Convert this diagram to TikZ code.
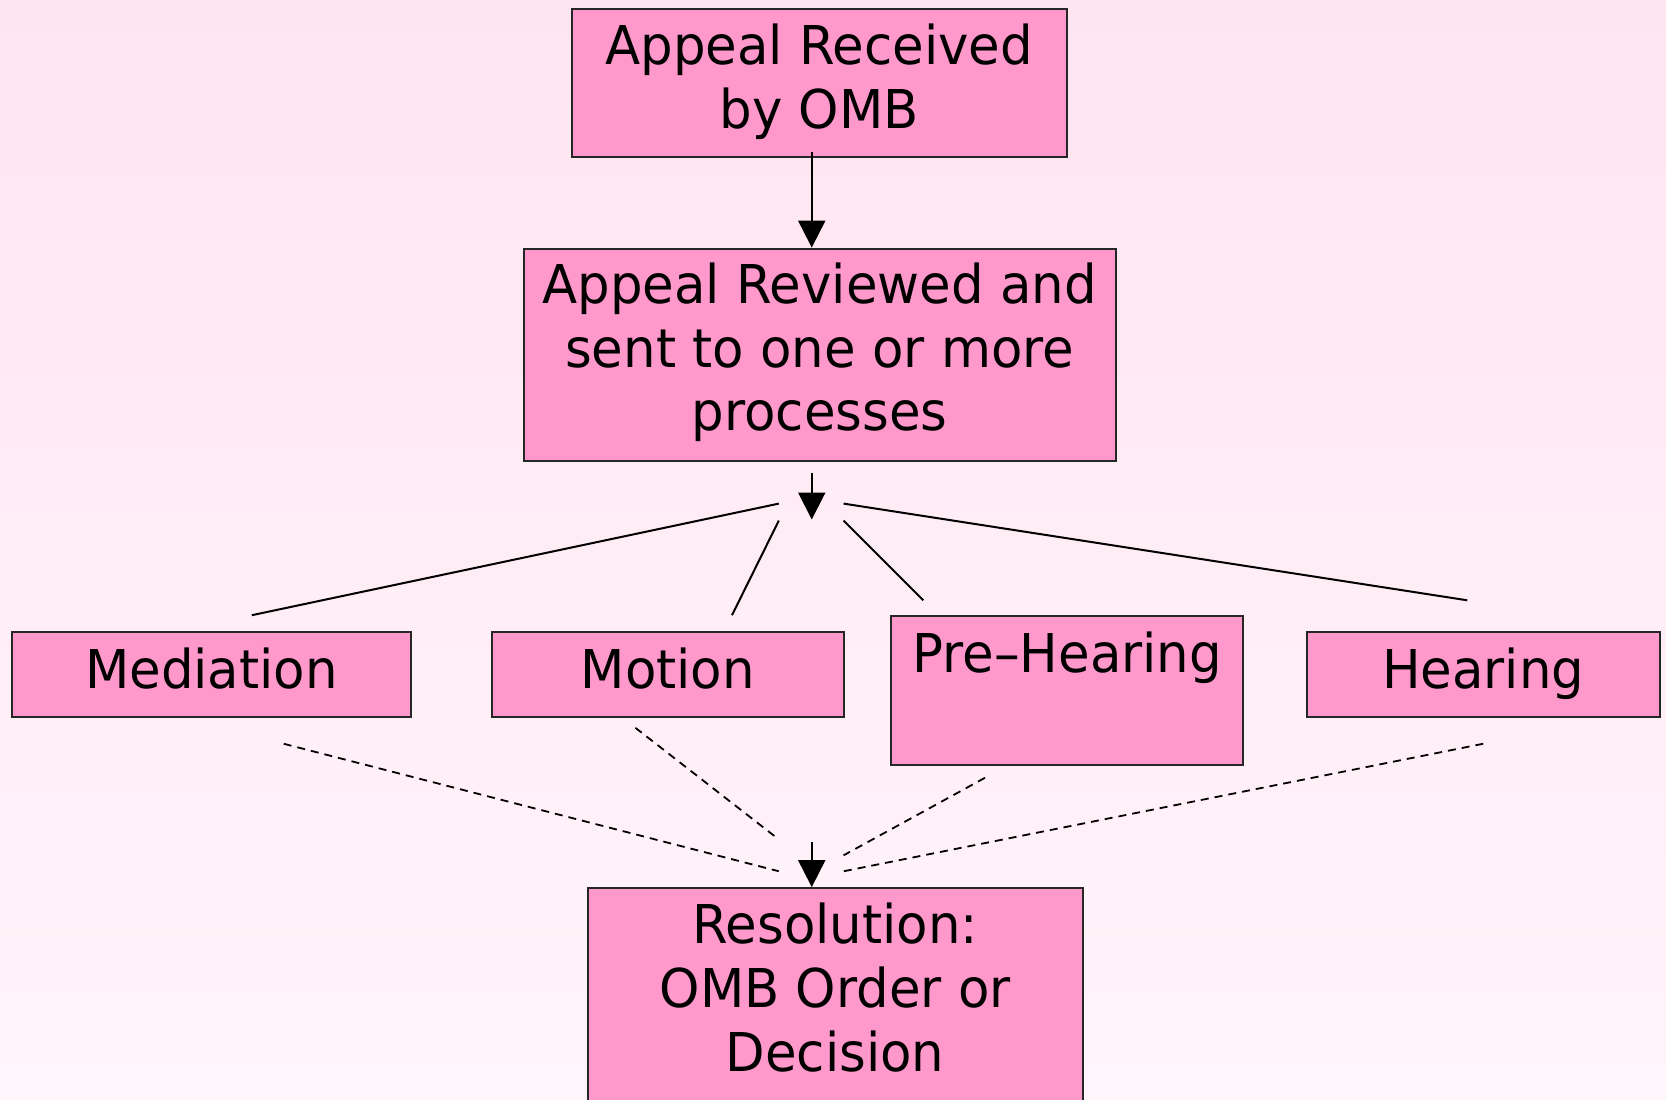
\documentclass[tikz,border=0pt]{standalone}
\usepackage{fontspec}
\setmainfont{DejaVu Sans}[FakeStretch=0.96]
\usetikzlibrary{arrows.meta}
\definecolor{boxfill}{RGB}{255,153,204}
\definecolor{bgtop}{RGB}{255,229,240}
\definecolor{bgbot}{RGB}{255,245,250}
\tikzset{
  box/.style={draw=black!85, line width=1pt, fill=boxfill, rectangle, inner sep=0pt},
  txt/.style={inner sep=0pt, anchor=base, font=\fontsize{26.75pt}{32pt}\selectfont},
  arr/.style={line width=1pt, -{Triangle[length=13.5pt,width=13.5pt]}},
  solidline/.style={line width=1pt},
  dashline/.style={line width=0.9pt, dash pattern=on 4pt off 3pt}
}
\begin{document}
\begin{tikzpicture}[x=0.5pt,y=-0.5pt]
\useasboundingbox (0,0) rectangle (1666,1099);
\clip (0,0) rectangle (1666,1099);
\shade[top color=bgtop, bottom color=bgbot] (0,0) rectangle (1666,1099);

% boxes
\node[box, minimum width=247.6pt, minimum height=74.4pt] (recv) at (819.2,82.9) {};
\node[box, minimum width=295.9pt, minimum height=106.25pt] (rev) at (819.7,354.85) {};
\node[box, minimum width=199.75pt, minimum height=42.5pt] (med) at (211.45,674.7) {};
\node[box, minimum width=175.85pt, minimum height=42.5pt] (mot) at (667.75,674.7) {};
\node[box, minimum width=175.85pt, minimum height=74.35pt] (pre) at (1067.25,690.65) {};
\node[box, minimum width=176.35pt, minimum height=42.5pt] (hear) at (1483.25,674.7) {};
\node[box, minimum width=247.55pt, minimum height=115.9pt] (res) at (835.15,1004) {};

% texts
\node[txt] (t1a) at (819.2,64) {Appeal Received};
\node[txt] (t1b) at (819.2,128) {by OMB};
\node[txt] (t2a) at (819.7,303) {Appeal Reviewed and};
\node[txt] (t2b) at (819.7,367) {sent to one or more};
\node[txt] (t2c) at (819.7,430) {processes};
\node[txt] (tmed) at (211.45,688) {Mediation};
\node[txt] (tmot) at (667.75,688) {Motion};
\node[txt] (tpre) at (1067.25,672) {Pre–Hearing};
\node[txt] (thear) at (1483.25,688) {Hearing};
\node[txt] (tra) at (835.15,943.5) {Resolution:};
\node[txt] (trb) at (835.15,1007.5) {OMB Order or};
\node[txt] (trc) at (835.15,1071.5) {Decision};

% connector coordinates
\coordinate (ax) at (811.75,0);
\coordinate (j1s) at (811.75,472.8);
\coordinate (j1e) at (811.75,519.5);
\coordinate (ml1) at (778.8,503.6);  \coordinate (ml2) at (251.8,615.2);
\coordinate (mo1) at (778.8,520.6);  \coordinate (mo2) at (732,615.2);
\coordinate (pr1) at (843.6,520.6);  \coordinate (pr2) at (923.3,600.3);
\coordinate (he1) at (843.6,503.6);  \coordinate (he2) at (1467.3,600.3);
\coordinate (dm1) at (283.7,743.75); \coordinate (dm2) at (778.8,871.25);
\coordinate (do1) at (635.4,727.8);  \coordinate (do2) at (778.8,839.4);
\coordinate (dp1) at (985,777.75);   \coordinate (dp2) at (843.6,855.3);
\coordinate (dh1) at (1483.25,743.75); \coordinate (dh2) at (843.6,871.25);
\coordinate (j2s) at (811.75,841.5);

% arrows
\draw[arr] ([yshift=3pt]recv.south -| ax) -- (rev.north -| ax);
\draw[arr] (j1s) -- (j1e);
\draw[arr] (j2s) -- (res.north -| ax);

% solid fan lines
\draw[solidline] (ml1) -- (ml2);
\draw[solidline] (mo1) -- (mo2);
\draw[solidline] (pr1) -- (pr2);
\draw[solidline] (he1) -- (he2);

% dashed fan lines
\draw[dashline] (dm1) -- (dm2);
\draw[dashline] (do1) -- (do2);
\draw[dashline] (dp1) -- (dp2);
\draw[dashline] (dh1) -- (dh2);
\end{tikzpicture}
\end{document}
